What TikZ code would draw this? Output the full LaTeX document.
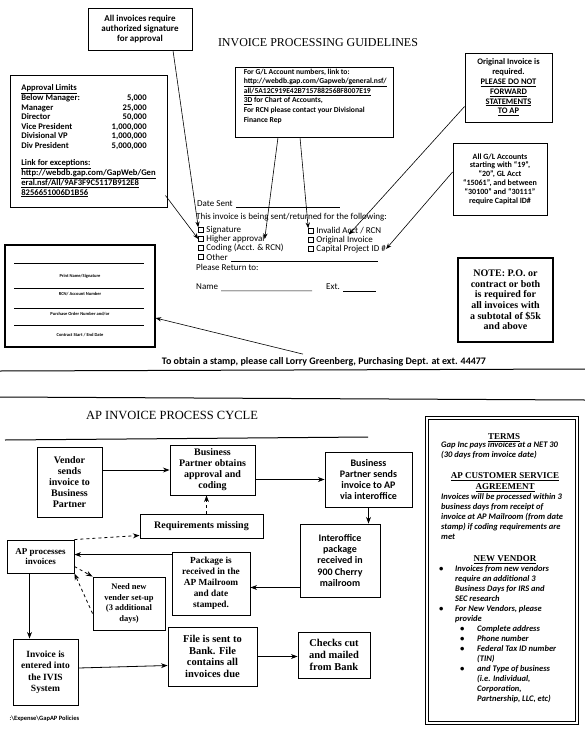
\documentclass[tikz,border=0pt]{standalone}
\usepackage{fontspec}
\setmainfont{Liberation Serif}
\setsansfont{Carlito}
\usetikzlibrary{positioning, arrows.meta, calc}

\begin{document}
\begin{tikzpicture}[
    x=1pt, y=-1pt,
    >=Stealth,
    box/.style={draw, line width=0.9pt, inner sep=1pt},
    note/.style={box, align=center, font=\sffamily\bfseries\fontsize{8.5}{9.8}\selectfont},
    flow/.style={box, align=center, font=\bfseries\fontsize{10}{11}\selectfont},
    sflow/.style={box, align=center, font=\sffamily\bfseries\fontsize{10}{11.2}\selectfont},
    stxt/.style={inner sep=0pt, font=\sffamily\fontsize{9}{9}\selectfont},
    chk/.style={draw, line width=0.5pt, minimum size=5pt, inner sep=0pt},
    thead/.style={inner sep=0pt, align=center, font=\bfseries\fontsize{9}{11}\selectfont},
    tbody/.style={inner sep=0pt, align=left, font=\sffamily\bfseries\itshape\fontsize{8.5}{10}\selectfont},
    arrow/.style={->, line width=0.8pt},
    darrow/.style={->, dashed, line width=0.8pt},
    ptr/.style={->, line width=0.6pt},
    rule/.style={line width=1pt},
]
\useasboundingbox (0,0) rectangle (585,736);

% ===== Guidelines =====
\node[font=\fontsize{12}{14}\selectfont] (title) at (318,43) {INVOICE PROCESSING GUIDELINES};

\node[note, font=\sffamily\bfseries\fontsize{9}{9.8}\selectfont, minimum width=104pt, minimum height=42pt] (allsig) at (140,29) {All invoices require\\authorized signature\\for approval};

\node[box, minimum width=157pt, minimum height=132pt, inner sep=0pt, font=\sffamily\bfseries\fontsize{8.6}{9.5}\selectfont] (limits) at (88.5,141) {%
\begin{tabular}{@{}l@{\hspace{14pt}}r@{\hspace{9pt}}}
\multicolumn{2}{@{}l@{}}{\underline{Approval Limits}}\\
Below Manager: & 5,000\\
Manager & 25,000\\
Director & 50,000\\
Vice President & 1,000,000\\
Divisional VP & 1,000,000\\
Div President & 5,000,000\\[8pt]
\multicolumn{2}{@{}l@{}}{\underline{Link for exceptions:}}\\
\multicolumn{2}{@{}l@{}}{\underline{http://webdb.gap.com/GapWeb/Gen}}\\
\multicolumn{2}{@{}l@{}}{\underline{eral.nsf/All/9AF3F9C5117B912E8}}\\
\multicolumn{2}{@{}l@{}}{\underline{8256651006D1B56}}
\end{tabular}};

\node[box, minimum width=158pt, minimum height=70pt] (glbox) at (314,102) {};
\node[anchor=north west, inner sep=0pt, align=left, font=\sffamily\bfseries\fontsize{7.6}{9.6}\selectfont] (gltext) at ($(glbox.north west)+(9,2)$) {For G/L Account numbers, link to:\\
\underline{http://webdb.gap.com/Gapweb/general.nsf/}\\
\underline{all/5A12C919E42B7157882568F8007E19}\\
\underline{3D} for Chart of Accounts,\\
For RCN please contact your Divisional\\
Finance Rep};

\node[note, minimum width=87pt, minimum height=69pt] (orig) at (508.5,87.5) {Original Invoice is\\required.\\\underline{PLEASE DO NOT}\\\underline{FORWARD}\\\underline{STATEMENTS}\\\underline{TO AP}};

\node[note, font=\sffamily\bfseries\fontsize{8}{8.8}\selectfont, minimum width=94pt, minimum height=72pt] (glacct) at (500,179) {All G/L Accounts\\starting with ``19'',\\``20'', GL Acct\\``15061'', and between\\``30100'' and ``30111''\\require Capital ID\#};

% ===== Stamp =====
\node[draw, double, double distance=1.2pt, line width=0.6pt, minimum width=240pt, minimum height=104pt] (stamp) at (310,244) {};
\node[stxt, anchor=base west] (datesent) at (197,206) {Date Sent};
\draw[line width=0.5pt] ($(datesent.base east)+(3,1)$) -- ($(stamp.east |- datesent.base)+(-90,1)$);
\node[stxt, anchor=base west] (reason) at (196,219) {This invoice is being sent/returned for the following:};

\node[chk] (cbsig) at (201,230) {};
\node[stxt, right=2.5pt of cbsig] (sigtxt) {Signature};
\node[chk] (cbhigh) at (201,239) {};
\node[stxt, right=2.5pt of cbhigh] (hightxt) {Higher approval};
\node[chk] (cbcode) at (201,248) {};
\node[stxt, right=2.5pt of cbcode] (codetxt) {Coding (Acct. \& RCN)};
\node[chk] (cbother) at (201,257) {};
\node[stxt, right=2.5pt of cbother] (othtxt) {Other};
\draw[line width=0.5pt] ($(othtxt.base east)+(3,1)$) -- ($(stamp.east |- othtxt.base)+(-52,1)$);

\node[chk] (cbinv) at (311,231) {};
\node[stxt, right=2.5pt of cbinv] (invtxt) {Invalid Acct / RCN};
\node[chk] (cborig) at (311,240) {};
\node[stxt, right=2.5pt of cborig] (origtxt) {Original Invoice};
\node[chk] (cbcap) at (311,249) {};
\node[stxt, right=2.5pt of cbcap] (captxt) {Capital Project ID \#};

\node[stxt, anchor=west] (retto) at (196,267) {Please Return to:};
\node[stxt, anchor=west] (nametxt) at (196,287) {Name};
\node[stxt, anchor=west] (exttxt) at (326,287) {Ext.};
\draw[line width=0.5pt] ($(nametxt.base east)+(3,1)$) -- ($(exttxt.base west)+(-14,1)$);
\draw[line width=0.5pt] ($(exttxt.base east)+(3,1)$) -- ($(stamp.east |- exttxt.base)+(-54,1)$);

% pointers into the stamp
\draw[ptr] ($(allsig.south)+(33,0)$) -- (cbsig.north west);
\draw[ptr] ($(limits.south east)+(-2,-12)$) -- (cbhigh.west);
\draw[ptr] ($(glbox.south)+(-36,0)$) -- (hightxt.east);
\draw[ptr] ($(glbox.south)+(-14,0)$) -- (cbinv.north west);
\draw[ptr] ($(orig.west)+(0,19)$) -- (invtxt.south);
\draw[ptr] ($(glacct.west)+(0,-7)$) -- (captxt.east);

% ===== Stamp layout =====
\node[box, line width=1.2pt, minimum width=150pt, minimum height=102pt] (leftbox) at (80,296) {};
\foreach \y in {19,44,64,81}
    \draw[line width=0.7pt] ($(leftbox.north west)+(10,\y)$) -- ++(130,0);
\foreach \y/\t [count=\i] in {32/{Print Name/Signature}, 50/{RCN/ Account Number}, 70/{Purchase Order Number and/or}, 91/{Contract Start / End Date}}
    \node[font=\sffamily\bfseries\fontsize{4.5}{5}\selectfont] (lb\i) at ($(leftbox.north)+(0,\y)$) {\t};

\node[box, line width=1.6pt, align=center, minimum width=95pt, minimum height=84pt, font=\bfseries\fontsize{10}{10.6}\selectfont] (pobox) at (505.5,300) {NOTE: P.O. or\\contract or both\\is required for\\all invoices with\\a subtotal of \$5k\\and above};

\node[font=\sffamily\bfseries\fontsize{10}{11}\selectfont] (stampnote) at (324,362) {To obtain a stamp, please call Lorry Greenberg, Purchasing Dept. at ext. 44477};
\draw[ptr] ($(stampnote.north)+(-21,0)$) -- ($(leftbox.east)+(0,22)$);

\draw[rule] (0,371) -- (585,369);
\draw[rule] (0,397) -- (585,400);

% ===== AP invoice process cycle =====
\node[font=\fontsize{12.5}{14}\selectfont] (aptitle) at (172,415) {AP INVOICE PROCESS CYCLE};
\draw[rule] (5,440) -- (368,437);

\node[flow, minimum width=65pt, minimum height=70pt] (vendor) at (69.5,482) {Vendor\\sends\\invoice to\\Business\\Partner};
\node[flow, minimum width=85pt, minimum height=50pt] (bpobt) at (212.5,470) {Business\\Partner obtains\\approval and\\coding};
\node[sflow, minimum width=87pt, minimum height=55pt] (bpsend) at (368.5,479.5) {Business\\Partner sends\\invoice to AP\\via interoffice};
\node[sflow, minimum width=80pt, minimum height=73pt] (interoff) at (340,560.5) {Interoffice\\package\\received in\\900 Cherry\\mailroom};
\node[flow, minimum width=123pt, minimum height=24pt] (reqmiss) at (201.5,526) {Requirements missing};
\node[flow, font=\bfseries\fontsize{9.3}{11}\selectfont, minimum width=78pt, minimum height=63pt] (pkg) at (211,583.5) {Package is\\received in the\\AP Mailroom\\and date\\stamped.};
\node[flow, font=\bfseries\fontsize{9}{10}\selectfont, minimum width=67pt, minimum height=33pt] (approc) at (40.5,556.5) {AP processes\\invoices};
\node[flow, font=\bfseries\fontsize{8.5}{10.5}\selectfont, minimum width=72pt, minimum height=53pt] (needv) at (129,603.5) {Need new\\vender set-up\\(3 additional\\days)};
\node[flow, font=\bfseries\fontsize{9.5}{11.5}\selectfont, minimum width=65pt, minimum height=66pt] (ivis) at (45.5,672) {Invoice is\\entered into\\the IVIS\\System};
\node[flow, font=\bfseries\fontsize{10.5}{11.8}\selectfont, minimum width=89pt, minimum height=59pt] (filebank) at (212.5,656.5) {File is sent to\\Bank. File\\contains all\\invoices due};
\node[flow, font=\bfseries\fontsize{10.5}{12}\selectfont, minimum width=72pt, minimum height=46pt] (checks) at (334,655) {Checks cut\\and mailed\\from Bank};

\draw[arrow] (vendor.east |- bpobt.west) -- (bpobt.west);
\draw[arrow] (bpobt.east |- bpsend.west) -- (bpsend.west);
\draw[arrow] (bpsend.south) -- (bpsend.south |- interoff.north);
\coordinate (io) at ($(interoff.west)+(0,27)$);
\draw[arrow] (io) -- (io -| pkg.east);
\coordinate (pk) at ($(pkg.north west)+(0,3)$);
\draw[arrow] (pk) -- (pk -| approc.east);
\coordinate (rq) at ($(reqmiss.north)+(5,0)$);
\draw[darrow] (rq) -- (rq |- bpobt.south);
\coordinate (ra) at ($(reqmiss.south west)+(0,-3)$);
\draw[darrow] (approc.north east) -- (ra);
\draw[darrow] ($(approc.east)+(0,10)$) -- (needv.north west);
\draw[darrow] ($(needv.west)+(0,10)$) -- (approc.south east);
\coordinate (av) at ($(approc.south)+(-11,0)$);
\draw[arrow] (av) -- (av |- ivis.north);
\draw[arrow] ($(ivis.east)+(0,-4)$) -- ($(filebank.west)+(0,9)$);
\draw[arrow] (filebank.east) -- (filebank.east -| checks.west);

% ===== Terms =====
\node[draw, double, double distance=1.3pt, line width=1pt, minimum width=150pt, minimum height=305pt] (terms) at (502,570.5) {};
\node[thead] (termshd) at (504,438) {\underline{TERMS}};
\node[tbody, anchor=north west] (termstxt) at (441,441) {Gap Inc pays invoices at a NET 30\\(30 days from invoice date)};
\node[thead] (csahd) at (505,482.5) {\underline{AP CUSTOMER SERVICE}\\\underline{AGREEMENT}};
\node[tbody, anchor=north west] (csatxt) at (441,493) {Invoices will be processed within 3\\business days from receipt of\\invoice at AP Mailroom (from date\\stamp) if coding requirements are\\met};
\node[thead] (nvhd) at (505,560) {\underline{NEW VENDOR}};
\node[tbody, anchor=north west] (nvtxt) at (439,565) {%
\makebox[16pt][l]{\textbullet}Invoices from new vendors\\
\hspace*{16pt}require an additional 3\\
\hspace*{16pt}Business Days for IRS and\\
\hspace*{16pt}SEC research\\
\makebox[16pt][l]{\textbullet}For New Vendors, please\\
\hspace*{16pt}provide\\
\hspace*{21pt}\makebox[17pt][l]{\textbullet}Complete address\\
\hspace*{21pt}\makebox[17pt][l]{\textbullet}Phone number\\
\hspace*{21pt}\makebox[17pt][l]{\textbullet}Federal Tax ID number\\
\hspace*{38pt}(TIN)\\
\hspace*{21pt}\makebox[17pt][l]{\textbullet}and Type of business\\
\hspace*{38pt}(i.e. Individual,\\
\hspace*{38pt}Corporation,\\
\hspace*{38pt}Partnership, LLC, etc)};

\node[anchor=west, font=\sffamily\bfseries\fontsize{6.5}{8}\selectfont] (footer) at (6,719) {:\textbackslash Expense\textbackslash GapAP Policies};

\end{tikzpicture}
\end{document}
